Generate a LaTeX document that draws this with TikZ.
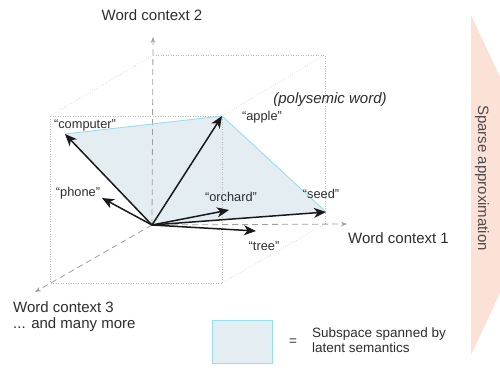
\documentclass[tikz,border=0pt]{standalone}
\usepackage{fontspec}
\setmainfont{Liberation Sans}
\usetikzlibrary{arrows.meta}
\definecolor{planefill}{RGB}{228,238,242}
\definecolor{planeedge}{RGB}{150,222,242}
\definecolor{pinkarrow}{RGB}{252,225,215}
\definecolor{txt}{RGB}{45,45,45}
\tikzset{
  cubeline/.style={gray!55, dotted, line width=0.5pt},
  axisline/.style={gray!75, dashed, dash pattern=on 6pt off 4pt, line width=0.8pt, -{Stealth[length=6pt,width=4.5pt]}},
  vec/.style={black!90, line width=1.5pt, -{Stealth[length=12pt,width=10pt,inset=3.5pt]}},
  wordlbl/.style={font=\fontsize{12.8}{14}\selectfont, text=txt, inner sep=0pt},
  axlbl/.style={font=\fontsize{15}{17}\selectfont, text=txt, inner sep=0pt},
}
\begin{document}
\begin{tikzpicture}[x=1pt,y=-1pt]
\useasboundingbox (0,0) rectangle (500,367);
% sparse approximation arrow
\fill[pinkarrow] (471,15) -- (500,77) -- (500,293) -- (471,355) -- cycle;
\node[axlbl, rotate=-90, text=black!70] (sparse) at (482,178) {Sparse approximation};
% coordinates
\coordinate (O) at (152,225);
\coordinate (computer) at (65,134);
\coordinate (apple) at (222,116);
\coordinate (phone) at (102,198);
\coordinate (orchard) at (229,210);
\coordinate (seed) at (326,212);
\coordinate (tree) at (256,231);
% cube back/front corners
\coordinate (b1) at (153,55);
\coordinate (b2) at (325,55);
\coordinate (b3) at (325,224);
\coordinate (f1) at (50,116);
\coordinate (f2) at (222,116);
\coordinate (f3) at (222,283);
\coordinate (f4) at (50,283);
% plane
\fill[planefill] (O) -- (computer) -- (apple) -- (seed) -- cycle;
% cube
\draw[cubeline] (b1) -- (b2) -- (b3);
\draw[cubeline] (f1) -- (f2) -- (f3) -- (f4) -- cycle;
\draw[cubeline] (b1) -- (f1);
\draw[cubeline] (b2) -- (f2);
\draw[cubeline] (b3) -- (f3);
% axes
\coordinate (ax1) at (347,224);
\coordinate (ax2) at (153,37);
\coordinate (ax3) at (35,292);
\draw[axisline] (O) -- (ax1);
\draw[axisline] (O) -- (ax2);
\draw[axisline] (O) -- (ax3);
% plane edges
\draw[planeedge, line width=0.9pt] (computer) -- (apple) -- (seed);
% vectors
\draw[vec] (O) -- (computer);
\draw[vec] (O) -- (apple);
\draw[vec] (O) -- (phone);
\draw[vec] (O) -- (orchard);
\draw[vec] (O) -- (seed);
\draw[vec] (O) -- (tree);
% labels
\node[wordlbl] (lcomputer) at (85,125) {“computer”};
\node[wordlbl] (lapple) at (262,117) {“apple”};
\node[axlbl, font=\fontsize{15}{17}\selectfont\itshape] (lpoly) at (330,100) {(polysemic word)};
\node[wordlbl] (lphone) at (78,193) {“phone”};
\node[wordlbl] (lorchard) at (231,197) {“orchard”};
\node[wordlbl] (lseed) at (321,194) {“seed”};
\node[wordlbl] (ltree) at (264,246) {“tree”};
\node[axlbl, anchor=west] (lax1) at (348,238) {Word context 1};
\node[axlbl] (lax2) at (152,15) {Word context 2};
\node[axlbl, anchor=west] (lax3) at (13,307) {Word context 3};
\node[axlbl, anchor=west] (lmore) at (13,325) {... and many more};
% legend
\draw[planeedge, fill=planefill, line width=0.9pt] (212,320) rectangle (272,363);
\node[wordlbl, font=\fontsize{13.5}{15}\selectfont] (eq) at (293,342) {=};
\node[wordlbl, font=\fontsize{13.5}{15.5}\selectfont, anchor=west, align=left] (legtxt) at (312,340) {Subspace spanned by\\latent semantics};
\end{tikzpicture}
\end{document}
